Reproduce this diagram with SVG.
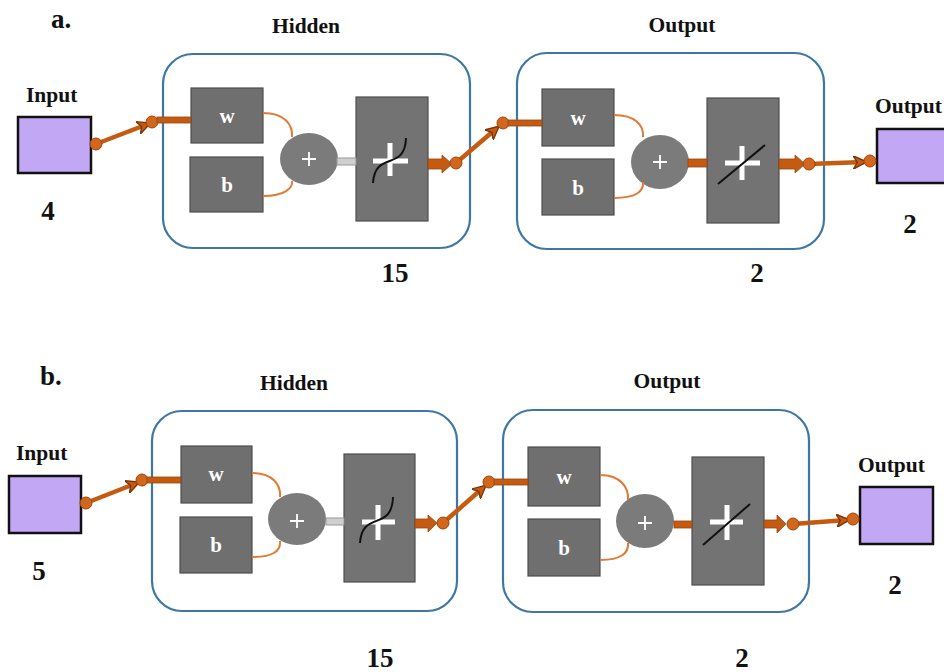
<svg xmlns="http://www.w3.org/2000/svg" width="944" height="672" viewBox="0 0 944 672">
<defs>
<style>
.t{font-family:"Liberation Serif","Times New Roman",serif;font-weight:bold;fill:#111}
.lbl{font-size:21.5px}
.big{font-size:27px}
.wt{font-family:"Liberation Serif","Times New Roman",serif;font-weight:bold;font-size:21px;fill:#fff}
.cont{fill:#fff;stroke:#3f77a4;stroke-width:2.2}
.io{fill:#c2a8f4;stroke:#111;stroke-width:2.5}
.gb{fill:#6f6f6f;stroke:#4e4e4e;stroke-width:1.2}
.tf{fill:#737373;stroke:#4e4e4e;stroke-width:1.2}
.sum{fill:#7b7b7b}
.arc{fill:none;stroke:#e07a35;stroke-width:2}
.cross{stroke:#fff;stroke-width:5;fill:none}
.pl{stroke:#fff;stroke-width:1.8}
.fn{stroke:#111;stroke-width:2;fill:none}
.thin{stroke:#c55a11;stroke-width:4.5;stroke-linecap:butt;fill:none}
.dot{fill:#d2661c;stroke:#9a4510;stroke-width:1}
.blk{fill:#c55a11;stroke:#9a4510;stroke-width:0.8}
.gcon{fill:#cfcfcf;stroke:#9a9a9a;stroke-width:1}
</style>
<marker id="ah" viewBox="0 0 10 10" refX="8" refY="5" markerWidth="3" markerHeight="3" orient="auto">
<path d="M0,0 L10,5 L0,10 L3,5 Z" fill="#c55a11" stroke="#7a3508" stroke-width="1"/>
</marker>
</defs>
<rect width="944" height="672" fill="#fff"/>

<!-- Panel a -->
<g id="a-labels">
<text class="t big" x="51" y="28">a.</text>
<text class="t lbl" x="306" y="33" text-anchor="middle">Hidden</text>
<text class="t lbl" x="682" y="32" text-anchor="middle">Output</text>
<text class="t big" x="395" y="282" text-anchor="middle">15</text>
<text class="t big" x="757" y="282" text-anchor="middle">2</text>
</g>
<g id="a-input">
<text class="t lbl" x="26" y="102">Input</text>
<rect class="io" x="18" y="117" width="73" height="56"/>
<text class="t big" x="48" y="220" text-anchor="middle">4</text>
</g>
<g id="a-hidden">
<rect class="cont" x="163" y="54" width="307" height="194" rx="30"/>
<g id="a-hidden-w"><rect class="gb" x="191" y="88" width="72" height="55"/><text class="wt" x="227" y="123" text-anchor="middle">w</text></g>
<g id="a-hidden-b"><rect class="gb" x="190" y="157" width="73" height="55"/><text class="wt" x="227" y="192" text-anchor="middle">b</text></g>
<g id="a-hidden-sum"><ellipse class="sum" cx="309" cy="159" rx="29" ry="26"/><path class="pl" d="M302,159 H316 M309,152 V166"/></g>
<g id="a-hidden-tf"><rect class="tf" x="356" y="97" width="72" height="124"/><path class="cross" d="M373,161 H408 M390,143 V176"/><path class="fn" d="M373,183 C375,150 405,172 406,138"/></g>
</g>
<g id="a-output">
<rect class="cont" x="517" y="53" width="307" height="196" rx="30"/>
<g id="a-output-w"><rect class="gb" x="542" y="89" width="72" height="57"/><text class="wt" x="578" y="125" text-anchor="middle">w</text></g>
<g id="a-output-b"><rect class="gb" x="542" y="159" width="72" height="56"/><text class="wt" x="578" y="195" text-anchor="middle">b</text></g>
<g id="a-output-sum"><ellipse class="sum" cx="660" cy="162" rx="29" ry="27"/><path class="pl" d="M653,162 H667 M660,155 V169"/></g>
<g id="a-output-tf"><rect class="tf" x="707" y="98" width="72" height="125"/><path class="cross" d="M725,163 H760 M742,146 V180"/><path class="fn" d="M718,184 L765,145"/></g>
</g>
<g id="a-outnode">
<text class="t lbl" x="875" y="113">Output</text>
<rect class="io" x="877" y="129" width="72" height="54"/>
<text class="t big" x="910" y="233" text-anchor="middle">2</text>
</g>

<!-- Panel b -->
<g id="b-labels">
<text class="t big" x="40" y="385">b.</text>
<text class="t lbl" x="294" y="390" text-anchor="middle">Hidden</text>
<text class="t lbl" x="667" y="388" text-anchor="middle">Output</text>
<text class="t big" x="380" y="667" text-anchor="middle">15</text>
<text class="t big" x="742" y="667" text-anchor="middle">2</text>
</g>
<g id="b-input">
<text class="t lbl" x="16" y="460">Input</text>
<rect class="io" x="9" y="476" width="72" height="57"/>
<text class="t big" x="39" y="580" text-anchor="middle">5</text>
</g>
<g id="b-hidden">
<rect class="cont" x="152" y="411" width="305" height="200" rx="30"/>
<g id="b-hidden-w"><rect class="gb" x="181" y="446" width="71" height="57"/><text class="wt" x="216" y="481" text-anchor="middle">w</text></g>
<g id="b-hidden-b"><rect class="gb" x="180" y="517" width="72" height="56"/><text class="wt" x="216" y="552" text-anchor="middle">b</text></g>
<g id="b-hidden-sum"><ellipse class="sum" cx="297" cy="519" rx="29" ry="26"/><path class="pl" d="M290,521 H304 M297,514 V528"/></g>
<g id="b-hidden-tf"><rect class="tf" x="344" y="454" width="71" height="128"/><path class="cross" d="M362,522 H395 M378,505 V540"/><path class="fn" d="M360,543 C362,510 392,532 393,497"/></g>
</g>
<g id="b-output">
<rect class="cont" x="503" y="410" width="306" height="202" rx="30"/>
<g id="b-output-w"><rect class="gb" x="528" y="447" width="72" height="59"/><text class="wt" x="564" y="484" text-anchor="middle">w</text></g>
<g id="b-output-b"><rect class="gb" x="528" y="519" width="72" height="57"/><text class="wt" x="564" y="555" text-anchor="middle">b</text></g>
<g id="b-output-sum"><ellipse class="sum" cx="645" cy="521" rx="29" ry="27"/><path class="pl" d="M638,523 H652 M645,516 V530"/></g>
<g id="b-output-tf"><rect class="tf" x="692" y="457" width="72" height="128"/><path class="cross" d="M710,522 H743 M727,505 V540"/><path class="fn" d="M703,545 L750,504"/></g>
</g>
<g id="b-outnode">
<text class="t lbl" x="858" y="472">Output</text>
<rect class="io" x="860" y="487" width="73" height="57"/>
<text class="t big" x="895" y="594" text-anchor="middle">2</text>
</g>

<!-- Connectors -->
<g id="connectors">
<path class="arc" d="M263,113 C285,113 293,125 292,137"/>
<path class="arc" d="M263,196 C285,196 293,188 292,181"/>
<path class="arc" d="M614,115 C635,115 644,125 643,137"/>
<path class="arc" d="M614,198 C635,198 644,192 643,182"/>
<rect class="gcon" x="337" y="158" width="19" height="7"/>
<rect class="blk" x="688" y="159" width="19" height="8"/>
<line class="thin" x1="96" y1="144" x2="148" y2="124" marker-end="url(#ah)"/>
<circle class="dot" cx="96" cy="144" r="6"/>
<circle class="dot" cx="152" cy="122" r="6"/>
<rect class="blk" x="157" y="117" width="34" height="6"/>
<path class="blk" d="M428,159 H442 V155 L452,164 L442,173 V169 H428 Z"/>
<line class="thin" x1="456" y1="163" x2="497" y2="128" marker-end="url(#ah)"/>
<circle class="dot" cx="456" cy="163" r="6"/>
<circle class="dot" cx="503" cy="123" r="6"/>
<rect class="blk" x="508" y="120" width="34" height="6"/>
<path class="blk" d="M779,159 H795 V155 L805,164 L795,173 V169 H779 Z"/>
<line class="thin" x1="809" y1="164" x2="864" y2="162" marker-end="url(#ah)"/>
<circle class="dot" cx="809" cy="164" r="6"/>
<circle class="dot" cx="870" cy="161" r="6"/>
<path class="arc" d="M252,473 C273,473 281,485 280,497"/>
<path class="arc" d="M252,557 C273,557 281,551 280,541"/>
<path class="arc" d="M600,475 C621,475 629,488 628,500"/>
<path class="arc" d="M600,560 C621,560 629,553 628,543"/>
<rect class="gcon" x="326" y="518" width="18" height="7"/>
<rect class="blk" x="674" y="521" width="18" height="7"/>
<line class="thin" x1="86" y1="503" x2="137" y2="483" marker-end="url(#ah)"/>
<circle class="dot" cx="86" cy="503" r="6"/>
<circle class="dot" cx="142" cy="480" r="6"/>
<rect class="blk" x="147" y="477" width="34" height="6"/>
<path class="blk" d="M415,519 H428 V515 L437,523 L428,532 V528 H415 Z"/>
<line class="thin" x1="443" y1="523" x2="484" y2="487" marker-end="url(#ah)"/>
<circle class="dot" cx="443" cy="523" r="6"/>
<circle class="dot" cx="489" cy="482" r="6"/>
<rect class="blk" x="494" y="479" width="34" height="6"/>
<path class="blk" d="M764,520 H777 V515 L786,524 L777,533 V528 H764 Z"/>
<line class="thin" x1="793" y1="524" x2="847" y2="520" marker-end="url(#ah)"/>
<circle class="dot" cx="793" cy="524" r="6"/>
<circle class="dot" cx="853" cy="519" r="6"/>
</g>
</svg>
